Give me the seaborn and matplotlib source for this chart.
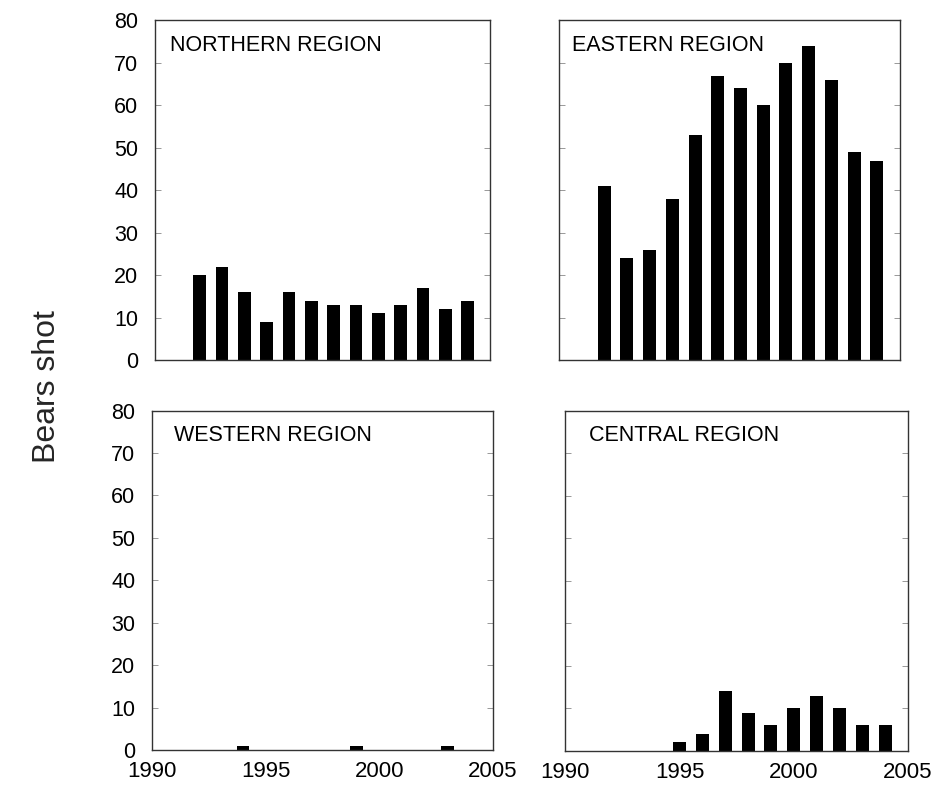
import numpy as np
import pandas as pd
import seaborn as sns
import matplotlib.pyplot as plt

years = list(range(1992, 2005))
northern = [20, 22, 16, 9, 16, 14, 13, 13, 11, 13, 17, 12, 14]
eastern = [41, 24, 26, 38, 53, 67, 64, 60, 70, 74, 66, 49, 47]
western = [0, 0, 1, 0, 0, 0, 0, 1, 0, 0, 0, 1, 0]
central = [0, 0, 0, 2, 4, 14, 9, 6, 10, 13, 10, 6, 6]

x_ticks = [1990, 1995, 2000, 2005]
y_ticks = list(range(0, 81, 10))

sns.set_theme(style="white")
plt.rcParams['font.family'] = ['Liberation Sans', 'DejaVu Sans']

fig = plt.figure(figsize=(9.39, 7.88), dpi=100)

# (values, title, axes rect, title x, show y labels, show x labels)
panels = [
    (northern, "NORTHERN REGION", [0.165, 0.543, 0.357, 0.431], 0.045, True, False),
    (eastern, "EASTERN REGION", [0.595, 0.543, 0.363, 0.431], 0.04, False, False),
    (western, "WESTERN REGION", [0.162, 0.048, 0.363, 0.431], 0.065, True, True),
    (central, "CENTRAL REGION", [0.602, 0.047, 0.365, 0.432], 0.07, False, True),
]

for vals, title, rect, tx, show_y, show_x in panels:
    ax = fig.add_axes(rect)
    df = pd.DataFrame({"Year": years, "Bears": vals})
    sns.barplot(data=df, x="Year", y="Bears", native_scale=True, width=0.57,
                color="black", edgecolor="black", linewidth=0, saturation=1, ax=ax)
    ax.set_xlim(1990, 2005)
    ax.set_ylim(0, 80)
    ax.set_xticks(x_ticks)
    ax.set_yticks(y_ticks)
    ax.set_xlabel("")
    ax.set_ylabel("")
    ax.text(tx, 0.926, title, transform=ax.transAxes, fontsize=15.5,
            ha="left", va="center", color="black")
    ax.tick_params(axis="y", which="both", direction="in", length=4, width=0.6,
                   color="#888888", left=True, right=True, labelsize=15.5, pad=12,
                   labelleft=show_y, labelcolor="black")
    ax.tick_params(axis="x", which="both", length=0, labelsize=16, pad=8,
                   labelbottom=show_x, labelcolor="black")
    for s in ax.spines.values():
        s.set_color("#333333")
        s.set_linewidth(1.0)
    if not show_x:
        ax.set_xticklabels([])

fig.text(0.05, 0.51, "Bears shot", rotation=90, fontsize=23, ha="center", va="center")

fig.savefig("out.png", dpi=100)
